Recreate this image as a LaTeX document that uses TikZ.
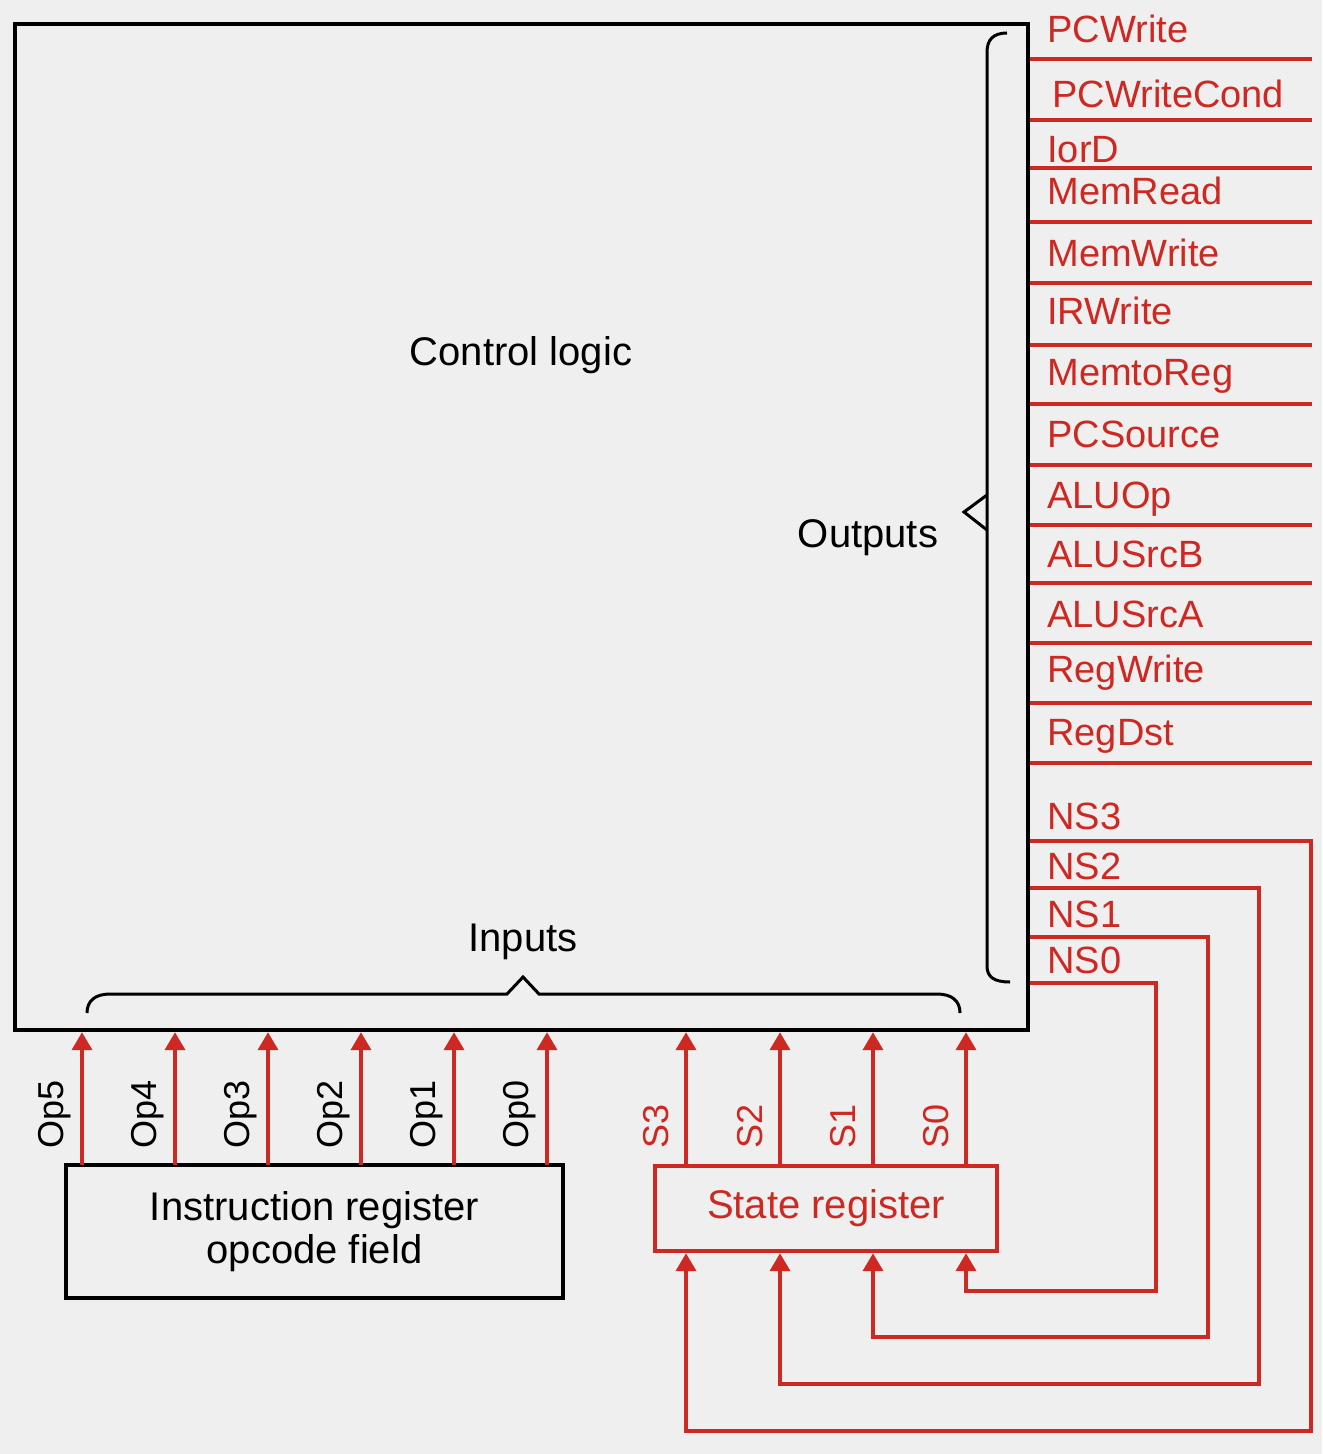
\documentclass[tikz,border=0pt]{standalone}
\usepackage{fontspec}
\setmainfont{Liberation Sans}
\usetikzlibrary{arrows.meta,calc}
\definecolor{sig}{RGB}{206,40,34}
\definecolor{bg}{RGB}{238,239,238}
\tikzset{
  blk/.style={draw=black, line width=2.2pt, inner sep=0pt, outer sep=0pt},
  wire/.style={draw=sig, line width=1.9pt},
  arr/.style={wire, -{Triangle[length=9pt,width=10pt]}},
  sigtext/.style={text=sig, font=\fontsize{19}{22}\selectfont, anchor=base west, inner sep=0pt},
  bittext/.style={font=\fontsize{18}{20}\selectfont, rotate=90, anchor=base west, inner sep=0pt},
  lbl/.style={font=\fontsize{20}{22}\selectfont, inner sep=0pt},
  brc/.style={draw=black, line width=1.5pt, line join=miter},
}
\begin{document}
\begin{tikzpicture}[x=0.5pt,y=-0.5pt]
% canvas
\fill[bg] (0,0) rectangle (1322,1454);
\useasboundingbox (0,0) rectangle (1322,1454);

% control logic block and the two registers
\node[blk, minimum width=506.5pt, minimum height=503pt] (ctrl) at (521.5,527) {};
\node[lbl] (ctrltxt) at (521,355) {Control logic};
\node[blk, minimum width=248.5pt, minimum height=66.5pt, align=center,
      font=\fontsize{20}{21.5}\selectfont] (ir) at (314.5,1231.5)
      {Instruction register\\opcode field};
\node[blk, draw=sig, line width=1.9pt, text=sig, minimum width=171pt, minimum height=42.5pt,
      font=\fontsize{20}{22}\selectfont] (sr) at (826,1208.5) {State register};

% control outputs
\foreach \n/\ly/\by/\tx [count=\i] in {
    PCWrite/59/43/1047, PCWriteCond/120/108/1052, IorD/168/163/1047,
    MemRead/222/205/1047, MemWrite/283/267/1047, IRWrite/345/325/1047,
    MemtoReg/404/386/1047, PCSource/465/447/1047, ALUOp/525/508/1047,
    ALUSrcB/583/567/1047, ALUSrcA/643/627/1047, RegWrite/703/682/1047,
    RegDst/763/745/1047} {
  \coordinate (out\i) at (1312,\ly);
  \draw[wire] ([xshift=1.1pt]ctrl.east |- out\i) -- (out\i);
  \node[sigtext] (outlbl\i) at (\tx,\by) {\n};
}

% opcode inputs
\foreach \b/\x in {5/82,4/175,3/268,2/361,1/454,0/547} {
  \coordinate (opx\b) at (\x,1100);
  \draw[arr] (ir.north -| opx\b) -- ([yshift=-1.1pt]ctrl.south -| opx\b);
  \node[bittext] (oplbl\b) at (\x-19,1149) {Op\b};
}

% current state inputs
\foreach \b/\x in {3/686,2/780,1/873,0/966} {
  \coordinate (sx\b) at (\x,1100);
  \draw[arr] (sr.north -| sx\b) -- ([yshift=-1.1pt]ctrl.south -| sx\b);
  \node[bittext, text=sig] (slbl\b) at (\x-18,1149) {S\b};
}

% next state outputs fed back into the state register
\foreach \b/\ny/\by/\xv/\yh in {3/841/829/1311/1431, 2/888/879/1259/1384,
                                1/937/927/1208/1337, 0/983/973/1156/1291} {
  \coordinate (nsy\b) at (1100,\ny);
  \coordinate (fbc\b) at (\xv,\yh);
  \draw[arr] ([xshift=1.1pt]ctrl.east |- nsy\b) -| (fbc\b)
             -| ([yshift=-1.1pt]sr.south -| sx\b);
  \node[sigtext] (nslbl\b) at (1047,\by) {NS\b};
}

% outputs brace
\draw[brc] (1007,33) .. controls (993,33) and (987,40) .. (987,52)
  -- (987,966) .. controls (987,977) and (994,982) .. (1010,982);
\draw[brc] (987,495) -- (964,512) -- (987,530);
\node[lbl] (outtxt) at (868,538) {Outputs};

% inputs brace
\draw[brc] (87,1013) .. controls (87,1001) and (95,994) .. (110,994)
  -- (507,994) -- (523,977) -- (539,994)
  -- (937,994) .. controls (952,994) and (960,1001) .. (960,1013);
\node[lbl] (intxt) at (523,942) {Inputs};
\end{tikzpicture}
\end{document}
